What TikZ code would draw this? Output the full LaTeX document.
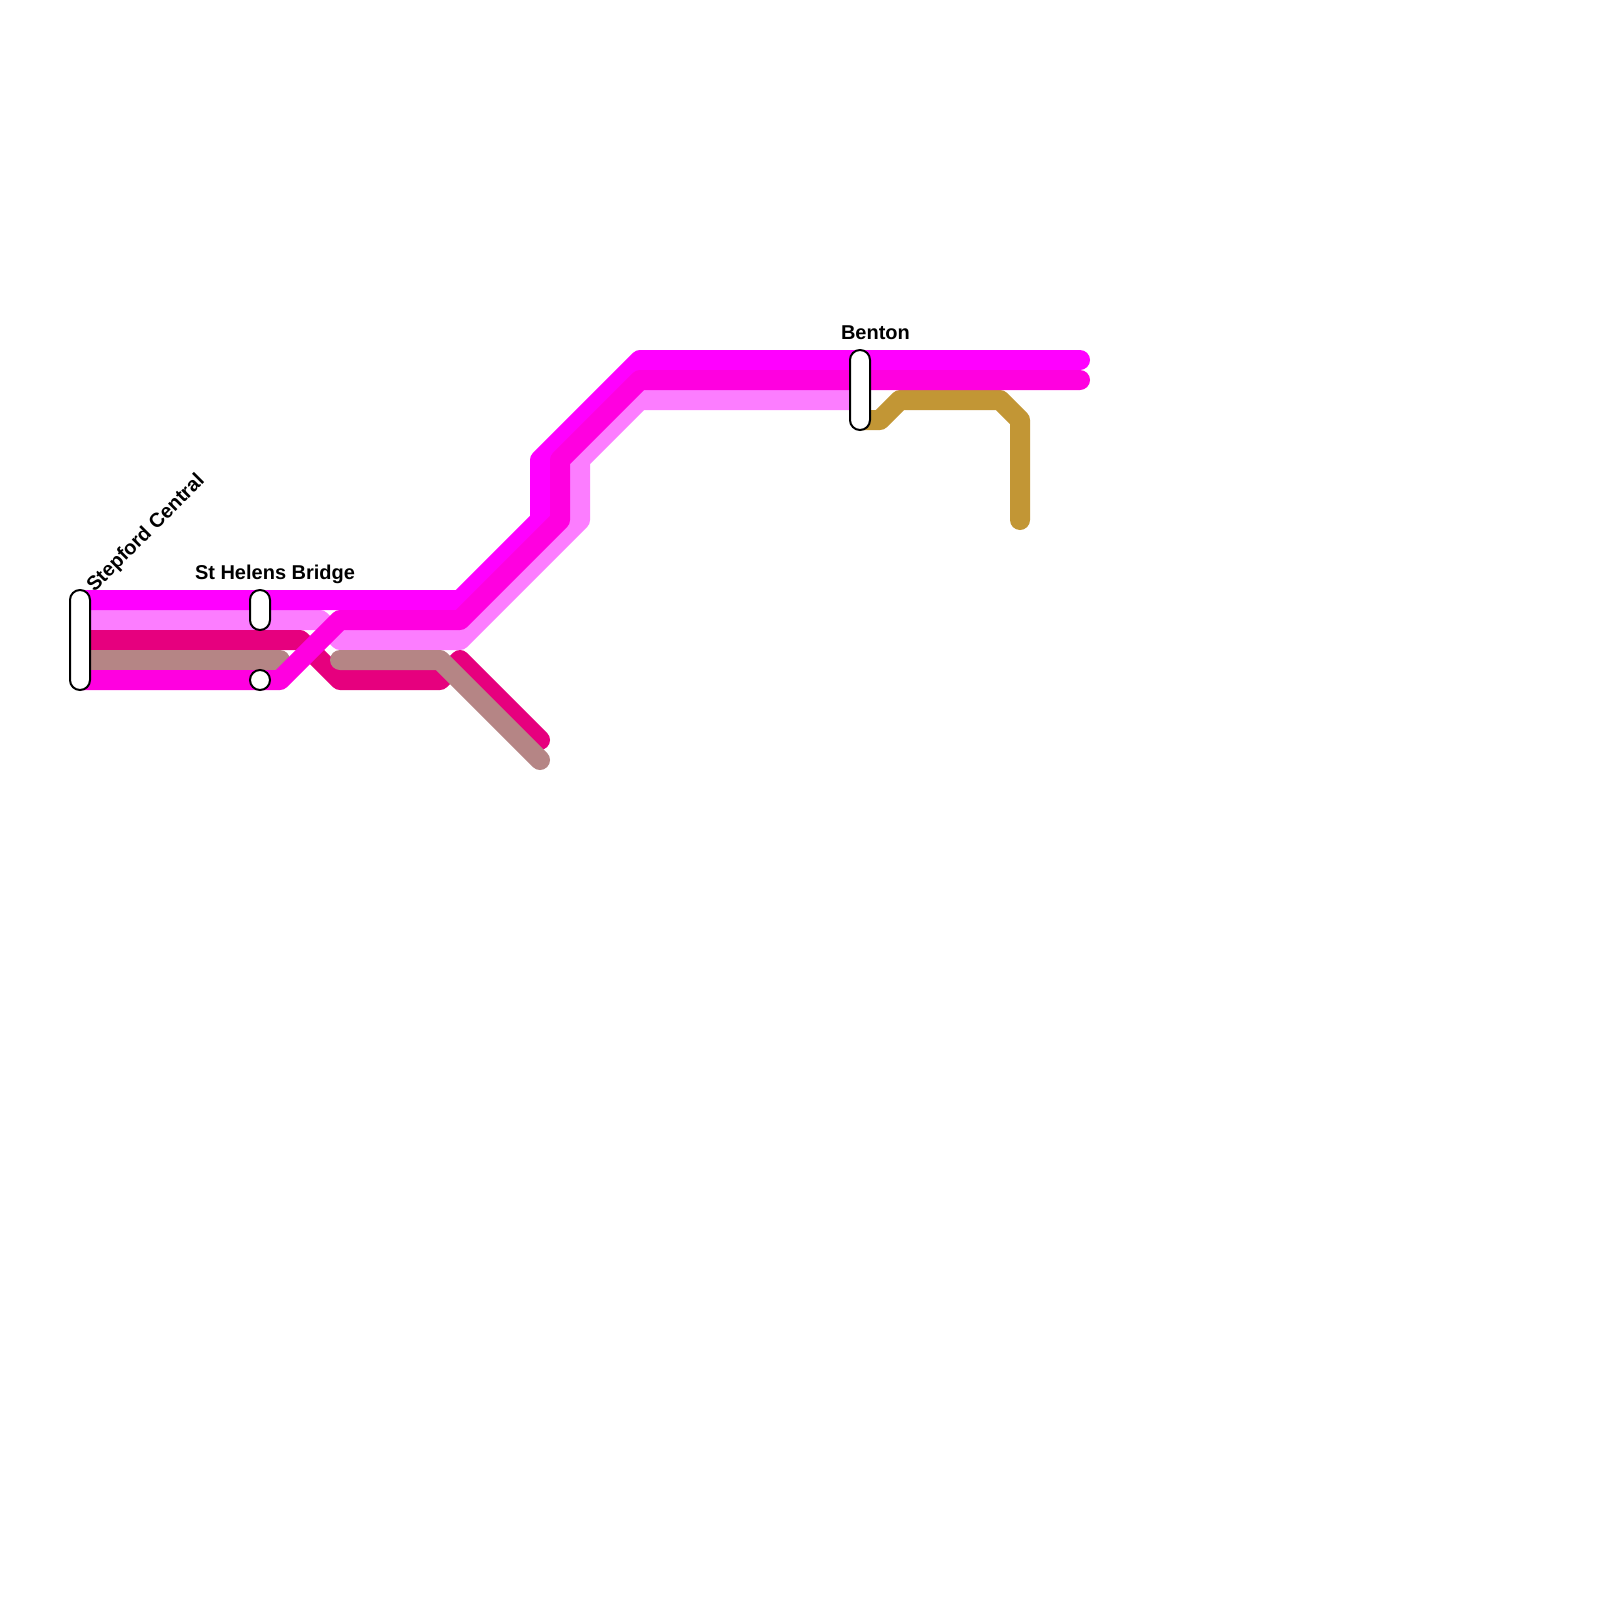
\documentclass[tikz,border=0pt]{standalone}
\usepackage{fontspec}
\setmainfont{Liberation Sans}
\definecolor{lineA}{HTML}{FF00FF}
\definecolor{lineB}{HTML}{FF00E0}
\definecolor{lineC}{HTML}{FC7DFF}
\definecolor{lineD}{HTML}{E6007E}
\definecolor{lineE}{HTML}{B58585}
\definecolor{lineF}{HTML}{C29635}
\tikzset{
  route/.style={line width=20pt,line cap=round,line join=round},
  stationbox/.style={draw=black,fill=white,line width=2pt,rectangle,rounded corners=9.99pt,minimum width=20pt,inner sep=0pt,outer sep=0pt},
  stationdot/.style={draw=black,fill=white,line width=2pt,circle,minimum size=20pt,inner sep=0pt,outer sep=0pt},
  stationlabel/.style={font=\fontsize{20}{24}\selectfont\bfseries,inner sep=0pt,outer sep=0pt,text=black}
}
\begin{document}
\begin{tikzpicture}[x=1pt,y=-1pt]
\useasboundingbox (0,0) rectangle (1600,1600);
\fill[white] (0,0) rectangle (1600,1600);
% routes
\draw[route,lineC] (80,620) -- (320,620) -- (340,640) -- (460,640) -- (580,520) -- (580,460) -- (640,400) -- (860,400);
\draw[route,lineD] (80,640) -- (300,640) -- (340,680) -- (440,680) -- (460,660) -- (540,740);
\draw[route,lineE] (80,660) -- (280,660);
\draw[route,lineE] (340,660) -- (440,660) -- (540,760);
\draw[route,lineF] (860,420) -- (880,420) -- (900,400) -- (1000,400) -- (1020,420) -- (1020,520);
\draw[route,lineA] (80,600) -- (460,600) -- (540,520) -- (540,460) -- (640,360) -- (1080,360);
\draw[route,lineB] (80,680) -- (280,680) -- (340,620) -- (460,620) -- (560,520) -- (560,460) -- (640,380) -- (1080,380);
% stations
\node[stationbox,minimum height=100pt] (stepford) at (80,640) {};
\node[stationbox,minimum height=40pt] (helens) at (260,610) {};
\node[stationdot] (helenslow) at (260,680) {};
\node[stationbox,minimum height=80pt] (benton) at (860,390) {};
% labels
\node[stationlabel,anchor=base west,rotate=45] (stepfordtext) at (94.5,592.5) {Stepford Central};
\node[stationlabel,anchor=base west] (helenstext) at (195,579.5) {St Helens Bridge};
\node[stationlabel,anchor=base west] (bentontext) at (841,339.5) {Benton};
\end{tikzpicture}
\end{document}
